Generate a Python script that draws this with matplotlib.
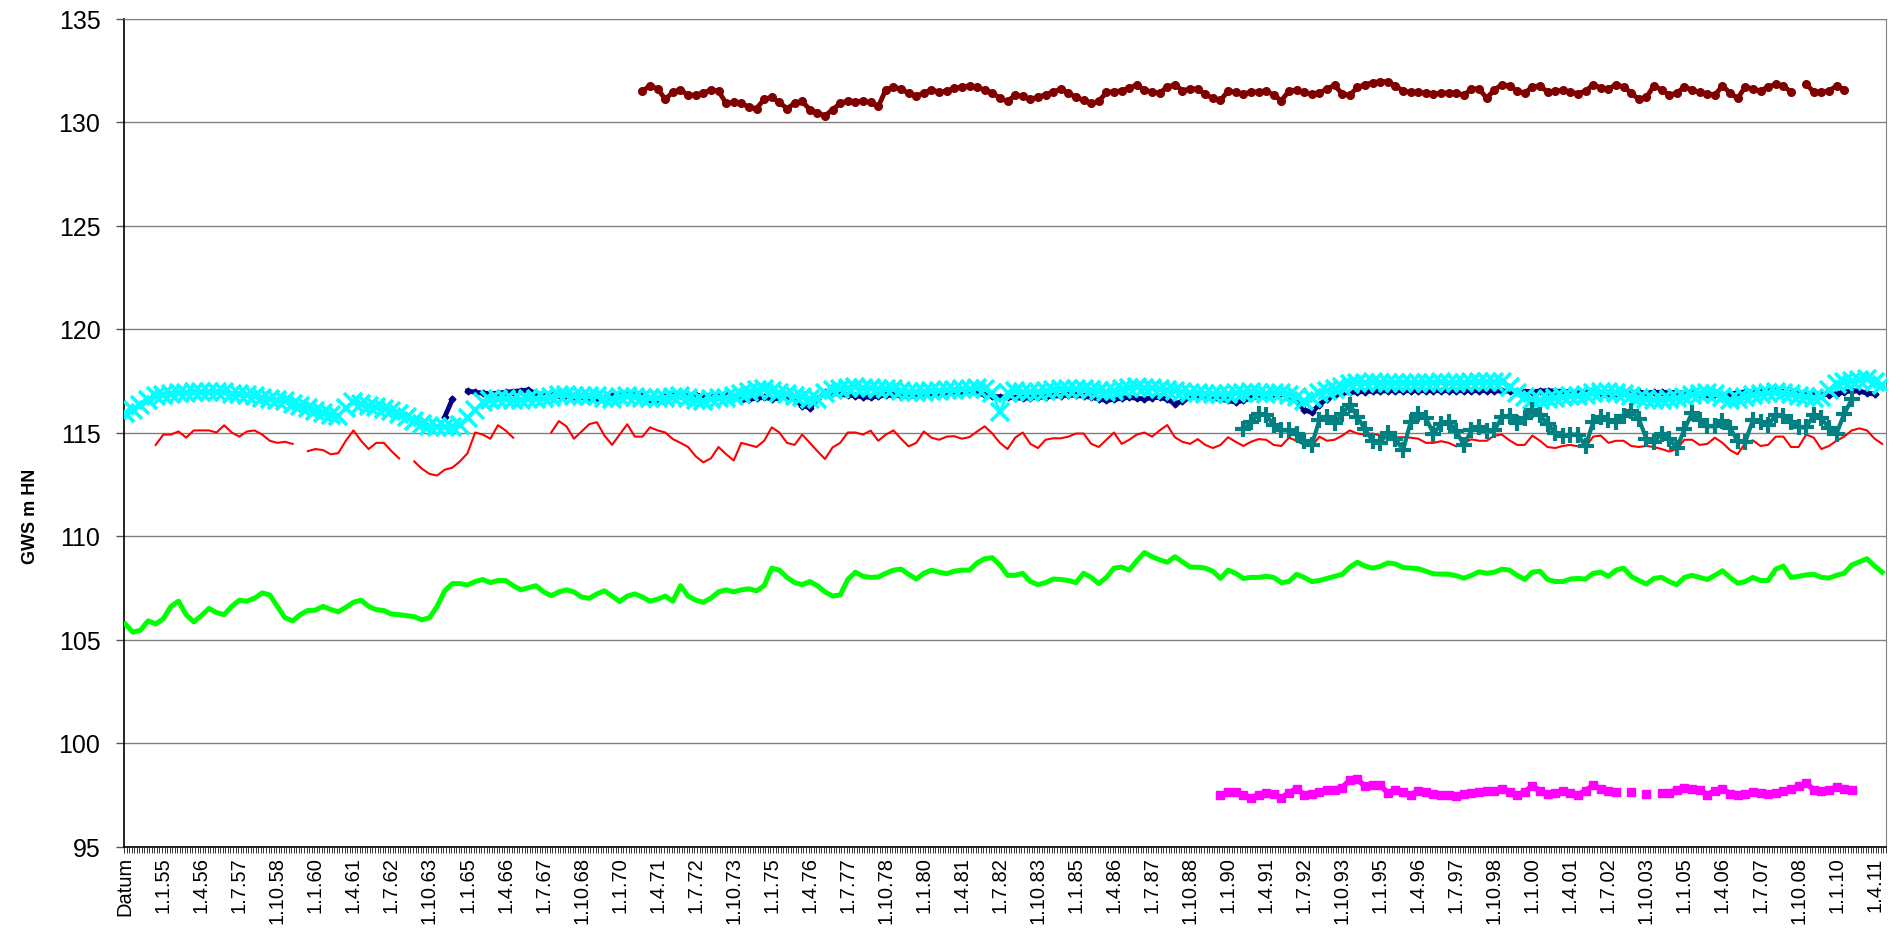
import numpy as np
import matplotlib
matplotlib.use("Agg")
from matplotlib import pyplot as plt
from matplotlib.ticker import FixedLocator, NullFormatter

plt.rcParams['font.family'] = ['Liberation Sans', 'DejaVu Sans']

# categories: "Datum" then monthly readings, one label every 15 categories
n_categories = 695
label_every = 15
tick_labels = ["Datum", "1.1.55", "1.4.56", "1.7.57", "1.10.58", "1.1.60", "1.4.61", "1.7.62",
               "1.10.63", "1.1.65", "1.4.66", "1.7.67", "1.10.68", "1.1.70", "1.4.71", "1.7.72",
               "1.10.73", "1.1.75", "1.4.76", "1.7.77", "1.10.78", "1.1.80", "1.4.81", "1.7.82",
               "1.10.83", "1.1.85", "1.4.86", "1.7.87", "1.10.88", "1.1.90", "1.4.91", "1.7.92",
               "1.10.93", "1.1.95", "1.4.96", "1.7.97", "1.10.98", "1.1.00", "1.4.01", "1.7.02",
               "1.10.03", "1.1.05", "1.4.06", "1.7.07", "1.10.08", "1.1.10", "1.4.11"]

# series values, read every 3rd category (None = no reading)
step = 3

darkred_start = 204
darkred = [131.5, 131.75, 131.6, 131.1, 131.45, 131.55, 131.3, 131.3, 131.4, 131.55, 131.5, 130.9, 130.95, 130.9, 130.72, 130.65, 131.1, 131.2, 130.95, 130.65,
           130.9, 131.0, 130.6, 130.45, 130.3, 130.6, 130.9, 131.03, 130.98, 131.0, 130.95, 130.75, 131.56, 131.68, 131.6, 131.38, 131.26, 131.4, 131.55, 131.45,
           131.5, 131.62, 131.7, 131.74, 131.68, 131.55, 131.4, 131.15, 131.0, 131.3, 131.25, 131.1, 131.2, 131.32, 131.45, 131.59, 131.4, 131.2, 131.05, 130.9,
           131.0, 131.43, 131.47, 131.51, 131.65, 131.78, 131.55, 131.45, 131.4, 131.7, 131.8, 131.52, 131.6, 131.6, 131.33, 131.15, 131.05, 131.5, 131.43, 131.36,
           131.45, 131.45, 131.51, 131.3, 131.03, 131.5, 131.55, 131.43, 131.35, 131.4, 131.6, 131.78, 131.35, 131.3, 131.67, 131.8, 131.9, 131.95, 131.95, 131.75,
           131.5, 131.43, 131.43, 131.4, 131.37, 131.38, 131.41, 131.4, 131.3, 131.6, 131.6, 131.15, 131.55, 131.8, 131.75, 131.5, 131.4, 131.7, 131.75, 131.45,
           131.5, 131.53, 131.45, 131.37, 131.5, 131.8, 131.65, 131.6, 131.8, 131.7, 131.4, 131.1, 131.2, 131.75, 131.55, 131.3, 131.4, 131.7, 131.55, 131.43,
           131.37, 131.3, 131.75, 131.4, 131.15, 131.7, 131.6, 131.5, 131.7, 131.82, 131.75, 131.45, None, 131.83, 131.45, 131.45, 131.5, 131.75, 131.55]

navy_start = 126
navy = [115.75, 116.6, None, 117.0, 116.95, 116.9, 116.88, 116.9, 116.94, 116.98, 117.02, 117.05, 116.88, 116.84, 116.8, 116.82, 116.8, 116.78, 116.76, 116.7,
        116.55, 116.65, 116.75, 116.8, 116.85, 116.9, 116.85, 116.6, 116.5, 116.7, 116.75, 116.8, 116.8, 116.8, 116.78, 116.8, 116.85, 116.8, 116.7, 116.55,
        116.6, 116.65, 116.7, 116.62, 116.65, 116.75, 116.6, 116.3, 116.2, 116.6, 116.94, 116.9, 116.85, 116.8, 116.78, 116.72, 116.7, 116.75, 116.8, 116.8,
        116.78, 116.75, 116.78, 116.8, 116.82, 116.85, 116.88, 116.9, 116.92, 116.94, 116.9, 116.82, 116.75, 116.72, 116.7, 116.68, 116.65, 116.68, 116.7, 116.72,
        116.75, 116.78, 116.8, 116.8, 116.75, 116.7, 116.62, 116.55, 116.6, 116.65, 116.7, 116.65, 116.62, 116.68, 116.7, 116.6, 116.4, 116.5, 116.7, 116.75,
        116.7, 116.65, 116.6, 116.55, 116.46, 116.55, 116.65, 116.75, 116.8, 116.85, 116.9, 116.8, 116.5, 116.1, 115.97, 116.35, 116.62, 116.8, 116.9, 116.94,
        116.96, 116.98, 117.0, 117.0, 117.02, 117.02, 117.02, 117.02, 117.02, 117.02, 117.02, 117.02, 117.02, 117.02, 117.02, 117.02, 117.02, 117.02, 117.02, 117.0,
        117.0, 117.0, 116.98, 116.98, 117.0, 117.02, 117.0, 116.98, 116.96, 116.95, 116.94, 116.94, 116.92, 116.9, 116.92, 116.94, 116.94, 116.94, 116.92, 116.94,
        116.94, 116.94, 116.92, 116.9, 116.9, 116.88, 116.86, 116.86, 116.8, 116.86, 116.92, 116.96, 117.0, 117.02, 117.02, 117.0, 116.95, 116.92, 116.9, 116.88,
        116.86, 116.85, 116.82, 116.88, 116.95, 117.02, 117.0, 116.9, 116.86]

cyan_start = 0
cyan = [115.95, 116.1, 116.35, 116.55, 116.78, 116.83, 116.86, 116.9, 116.93, 116.95, 116.97, 116.97, 116.97, 116.96, 116.88, 116.84, 116.8, 116.75, 116.68, 116.62,
        116.56, 116.5, 116.4, 116.3, 116.18, 116.05, 115.92, 115.85, 115.82, 116.2, 116.45, 116.38, 116.3, 116.22, 116.14, 116.05, 115.9, 115.73, 115.57, 115.41,
        115.33, 115.25, 115.25, 115.25, 115.35, 115.7, 116.1, 116.45, 116.55, 116.6, 116.6, 116.56, 116.55, 116.6, 116.63, 116.67, 116.73, 116.8, 116.79, 116.76,
        116.75, 116.77, 116.77, 116.68, 116.63, 116.7, 116.78, 116.72, 116.67, 116.65, 116.65, 116.66, 116.7, 116.75, 116.65, 116.55, 116.5, 116.6, 116.65, 116.65,
        116.75, 116.88, 116.97, 117.05, 117.12, 117.0, 116.92, 116.85, 116.78, 116.7, 116.6, 116.6, 116.9, 117.03, 117.1, 117.16, 117.18, 117.15, 117.13, 117.12,
        117.1, 117.08, 117.0, 116.96, 116.95, 116.98, 117.0, 117.02, 117.04, 117.06, 117.08, 117.12, 117.17, 117.1, 116.9, 116.0, 116.9, 117.0, 116.98, 116.96,
        116.95, 117.0, 117.06, 117.1, 117.1, 117.1, 117.1, 117.05, 117.0, 116.95, 117.0, 117.08, 117.14, 117.18, 117.16, 117.13, 117.1, 117.05, 117.0, 116.95,
        116.92, 116.9, 116.87, 116.86, 116.86, 116.86, 116.9, 116.92, 116.94, 116.9, 116.86, 116.9, 116.93, 116.8, 116.7, 116.5, 116.65, 116.9, 117.0, 117.1,
        117.2, 117.33, 117.39, 117.4, 117.42, 117.41, 117.4, 117.39, 117.39, 117.39, 117.39, 117.4, 117.41, 117.42, 117.41, 117.4, 117.39, 117.42, 117.44, 117.46,
        117.44, 117.42, 117.2, 116.9, 116.7, 116.57, 116.55, 116.62, 116.68, 116.72, 116.74, 116.77, 116.82, 116.9, 116.98, 116.98, 116.92, 116.86, 116.77, 116.66,
        116.6, 116.58, 116.55, 116.6, 116.66, 116.72, 116.8, 116.87, 116.92, 116.85, 116.7, 116.58, 116.6, 116.72, 116.83, 116.88, 116.92, 116.94, 116.9, 116.85,
        116.78, 116.72, 116.65, 116.7, 117.05, 117.35, 117.45, 117.5, 117.55, 117.58, 117.45, 117.3]

red_start = 12
red = [114.4, 114.9, 114.9, 115.05, 114.75, 115.1, 115.1, 115.1, 115.0, 115.35, 115.0, 114.8, 115.05, 115.1, 114.9, 114.6, 114.5, 114.55, 114.45,
       None,
       114.1, 114.2, 114.15, 113.95, 114.0, 114.6, 115.1, 114.6, 114.2, 114.5, 114.5, 114.1, 113.75,
       None,
       113.6, 113.25, 113.0, 112.92, 113.2, 113.3, 113.6, 114.0, 115.0, 114.9, 114.7, 115.35, 115.1, 114.75,
       None, None, None, None,
       115.0, 115.55, 115.3, 114.7, 115.05, 115.4, 115.5, 114.85, 114.4, 114.9, 115.4, 114.8, 114.8, 115.25, 115.1, 115.0, 114.68, 114.5, 114.3, 113.85,
       113.56, 113.75, 114.3, 113.95, 113.65, 114.5, 114.4, 114.3, 114.6, 115.25, 115.0, 114.5, 114.4, 114.9, 114.5, 114.1, 113.72, 114.28, 114.5, 115.0,
       115.0, 114.9, 115.09, 114.6, 114.9, 115.1, 114.7, 114.33, 114.5, 115.05, 114.75, 114.65, 114.8, 114.82, 114.7, 114.78, 115.05, 115.3, 114.95, 114.5,
       114.2, 114.75, 115.0, 114.45, 114.25, 114.65, 114.72, 114.72, 114.8, 114.95, 114.95, 114.45, 114.3, 114.65, 115.0, 114.45, 114.65, 114.9, 115.0, 114.8,
       115.1, 115.36, 114.77, 114.55, 114.45, 114.68, 114.4, 114.25, 114.4, 114.77, 114.55, 114.35, 114.55, 114.68, 114.65, 114.4, 114.35, 114.75, 114.6, 114.4,
       114.35, 114.8, 114.6, 114.65, 114.85, 115.1, 114.95, 114.9, 114.95, 114.85, 114.78, 114.77, 114.77, 114.75, 114.7, 114.5, 114.5, 114.58, 114.5, 114.33,
       114.5, 114.67, 114.6, 114.6, 114.85, 114.9, 114.62, 114.4, 114.4, 114.85, 114.6, 114.3, 114.25, 114.35, 114.4, 114.33, 114.3, 114.8, 114.85, 114.5,
       114.6, 114.6, 114.35, 114.3, 114.35, 114.3, 114.2, 114.08, 114.2, 114.65, 114.65, 114.4, 114.45, 114.75, 114.5, 114.15, 113.95, 114.5, 114.62, 114.35,
       114.4, 114.8, 114.8, 114.3, 114.3, 114.9, 114.75, 114.2, 114.35, 114.6, 114.8, 115.1, 115.2, 115.1, 114.7, 114.45]

teal_start = 441
teal = [115.15, 115.5, 115.9, 115.85, 115.35, 115.1, 115.1, 114.95, 114.6, 114.4, 115.6, 115.75, 115.45, 115.9, 116.35, 115.75, 115.15, 114.6, 114.5, 115.0,
        114.7, 114.15, 115.5, 115.9, 115.7, 114.95, 115.4, 115.5, 115.05, 114.4, 115.1, 115.25, 115.07, 115.1, 115.75, 115.78, 115.45, 115.7, 116.1, 115.85,
        115.4, 115.0, 114.85, 114.9, 114.9, 114.35, 115.5, 115.75, 115.62, 115.5, 115.8, 116.05, 115.65, 114.7, 114.55, 114.95, 114.7, 114.25, 115.15, 115.95,
        115.6, 115.3, 115.3, 115.55, 115.2, 114.6, 114.55, 115.6, 115.5, 115.35, 115.85, 115.8, 115.5, 115.25, 115.25, 115.85, 115.7, 115.2, 114.95, 115.9, 116.6]

green_start = 0
green = [105.75, 105.35, 105.45, 105.9, 105.75, 106.0, 106.6, 106.85, 106.2, 105.85, 106.15, 106.5, 106.3, 106.2, 106.6, 106.9, 106.85, 107.0, 107.25, 107.15,
         106.6, 106.05, 105.9, 106.2, 106.4, 106.42, 106.6, 106.45, 106.34, 106.55, 106.8, 106.9, 106.6, 106.44, 106.4, 106.23, 106.2, 106.15, 106.1, 105.95,
         106.05, 106.6, 107.35, 107.7, 107.7, 107.63, 107.8, 107.9, 107.75, 107.85, 107.85, 107.6, 107.4, 107.5, 107.6, 107.3, 107.12, 107.3, 107.4, 107.3,
         107.05, 106.99, 107.2, 107.35, 107.1, 106.83, 107.1, 107.2, 107.05, 106.85, 106.95, 107.1, 106.85, 107.6, 107.1, 106.9, 106.8, 107.0, 107.3, 107.4,
         107.3, 107.4, 107.45, 107.35, 107.6, 108.45, 108.35, 108.0, 107.75, 107.65, 107.8, 107.6, 107.3, 107.1, 107.15, 107.9, 108.25, 108.05, 108.0, 108.02,
         108.2, 108.35, 108.4, 108.15, 107.92, 108.2, 108.35, 108.25, 108.18, 108.3, 108.35, 108.35, 108.7, 108.9, 108.95, 108.6, 108.1, 108.1, 108.2, 107.8,
         107.65, 107.75, 107.92, 107.9, 107.85, 107.75, 108.2, 108.0, 107.7, 108.0, 108.45, 108.5, 108.35, 108.8, 109.2, 109.0, 108.85, 108.73, 109.0, 108.75,
         108.5, 108.49, 108.45, 108.3, 107.95, 108.35, 108.2, 107.95, 108.0, 108.0, 108.05, 108.0, 107.75, 107.8, 108.15, 108.0, 107.8, 107.85, 107.95, 108.05,
         108.15, 108.5, 108.73, 108.55, 108.45, 108.53, 108.7, 108.65, 108.48, 108.45, 108.42, 108.3, 108.17, 108.16, 108.16, 108.08, 107.96, 108.1, 108.27, 108.2,
         108.25, 108.4, 108.35, 108.1, 107.9, 108.25, 108.3, 107.9, 107.8, 107.8, 107.92, 107.95, 107.92, 108.2, 108.25, 108.05, 108.35, 108.45, 108.05, 107.85,
         107.68, 107.95, 108.0, 107.8, 107.65, 108.0, 108.1, 108.0, 107.9, 108.1, 108.32, 108.0, 107.72, 107.8, 108.0, 107.85, 107.85, 108.4, 108.55, 108.0,
         108.05, 108.12, 108.15, 108.0, 107.97, 108.1, 108.2, 108.6, 108.75, 108.9, 108.55, 108.25]

magenta_start = 432
magenta = [97.5, 97.62, 97.62, 97.5, 97.35, 97.5, 97.6, 97.55, 97.35, 97.6, 97.8, 97.5, 97.55, 97.62, 97.73, 97.75, 97.85, 98.2, 98.25, 97.9,
           97.95, 97.95, 97.6, 97.73, 97.62, 97.5, 97.68, 97.62, 97.52, 97.48, 97.47, 97.46, 97.55, 97.6, 97.64, 97.68, 97.7, 97.76, 97.65, 97.48,
           97.65, 97.92, 97.7, 97.52, 97.6, 97.68, 97.6, 97.5, 97.7, 97.95, 97.8, 97.7, 97.62, None, 97.62, None, 97.55, None, 97.6, 97.6,
           97.75, 97.85, 97.8, 97.75, 97.5, 97.7, 97.78, 97.55, 97.5, 97.55, 97.62, 97.58, 97.55, 97.6, 97.7, 97.78, 97.9, 98.05, 97.75, 97.7,
           97.75, 97.86, 97.8, 97.75]


def xy(start, vals):
    y = np.array(vals, dtype=float)
    return start + step * np.arange(len(y)), y


fig = plt.figure(figsize=(19.04, 9.37), dpi=100)
ax = fig.add_axes([124 / 1904, 1 - 847.5 / 937, 1762 / 1904, 828 / 937])

x, y = xy(darkred_start, darkred)
ax.plot(x, y, '-', color='#800000', lw=3.5, marker='o', ms=5.5, zorder=3)
x, y = xy(navy_start, navy)
ax.plot(x, y, '-', color='#000080', lw=3.5, marker='D', ms=3.5, zorder=3)
x, y = xy(cyan_start, cyan)
ax.plot(x, y, '-', color='#00FFFF', lw=2, marker='x', ms=13, mew=2.6, zorder=4)
x, y = xy(red_start, red)
ax.plot(x, y, '-', color='#FF0000', lw=1.5, zorder=5)
x, y = xy(teal_start, teal)
ax.plot(x, y, '-', color='#008080', lw=3, marker='+', ms=12, mew=3, zorder=6)
x, y = xy(green_start, green)
ax.plot(x, y, '-', color='#00FF00', lw=3.6, zorder=5)
x, y = xy(magenta_start, magenta)
ax.plot(x, y, '-', color='#FF00FF', lw=4, marker='s', ms=6, zorder=5)

ax.set_xlim(-0.5, n_categories - 0.5)
ax.set_ylim(95, 135)
ax.set_yticks(np.arange(95, 136, 5))
ax.yaxis.grid(True, color='#808080', lw=1)
ax.set_axisbelow(True)

ax.set_xticks(label_every * np.arange(len(tick_labels)))
ax.set_xticklabels(tick_labels, rotation=90, fontsize=14.5)
ax.xaxis.set_minor_locator(FixedLocator(np.arange(n_categories + 1) - 0.5))
ax.xaxis.set_minor_formatter(NullFormatter())
ax.tick_params(axis='x', which='major', length=0, pad=7)
ax.tick_params(axis='x', which='minor', length=4, width=0.7, color='#333333')
ax.tick_params(axis='y', length=6, width=1, color='#555555', pad=11, labelsize=18)

for side in ['top', 'right']:
    ax.spines[side].set_color('#808080')
for side in ['left', 'bottom']:
    ax.spines[side].set_color('black')
    ax.spines[side].set_linewidth(1.2)

ax.set_ylabel('GWS m HN', fontsize=13, fontweight='bold')
ax.yaxis.set_label_coords(-0.048, 0.40)

fig.savefig('out.png', dpi=100)
